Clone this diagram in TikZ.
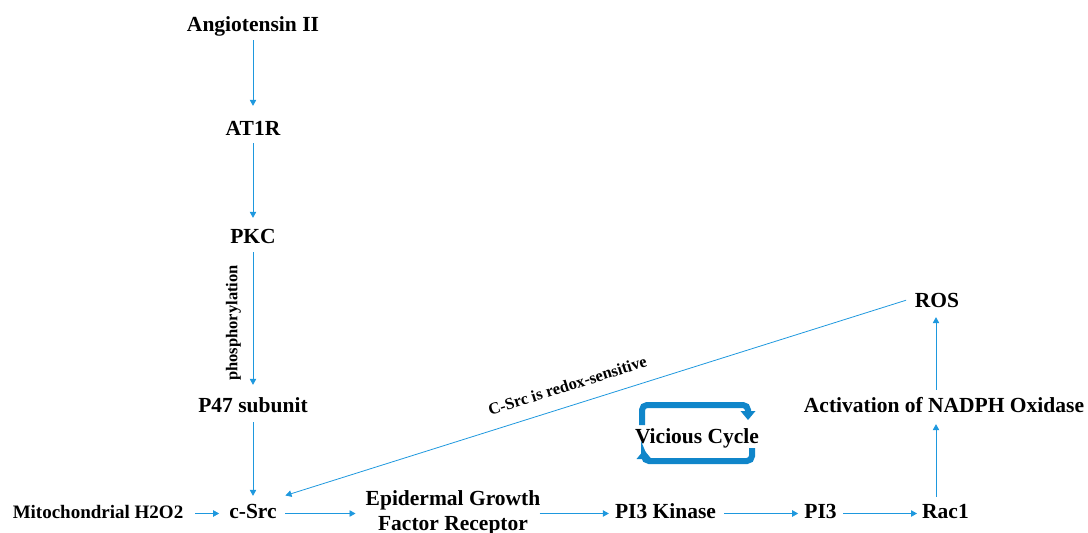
\documentclass[tikz,border=0pt]{standalone}
\usepackage{fontspec}
\setmainfont{Liberation Serif}
\usetikzlibrary{arrows.meta}
\definecolor{thinblue}{RGB}{30,152,222}
\definecolor{cycblue}{RGB}{16,134,202}
\begin{document}
\begin{tikzpicture}[x=1pt,y=-1pt,
  lbl/.style={font=\fontsize{21.5}{25}\selectfont\bfseries, inner sep=0pt, text height=14pt, text depth=5pt, anchor=base},
  arr/.style={draw=thinblue, line width=0.8pt, -{Triangle[length=6pt,width=6.5pt]}},
  rarr/.style={draw=thinblue, line width=0.8pt, {Triangle[length=6pt,width=6.5pt]}-},
  cycbody/.style={draw=cycblue, line width=6pt, rounded corners=5pt},
  cyctip/.style={fill=cycblue},
  smalllbl/.style={font=\fontsize{16.5}{19}\selectfont\bfseries, inner sep=0pt}]
\useasboundingbox (0,0) rectangle (1088,533);

% nodes
\node[lbl] (ang) at (253,31) {Angiotensin II};
\node[lbl] (at1r) at (253,135) {AT1R};
\node[lbl] (pkc) at (253,243) {PKC};
\node[lbl] (p47) at (253,412) {P47 subunit};
\node[lbl] (csrc) at (253,518) {c-Src};
\node[lbl, font=\fontsize{19}{23}\selectfont\bfseries] (mito) at (98,518) {Mitochondrial H2O2};
\node[font=\fontsize{21.5}{25}\selectfont\bfseries, align=center, inner sep=0pt] (egfr) at (453,512.5) {Epidermal Growth\\Factor Receptor};
\node[lbl] (pi3k) at (665.5,518) {PI3 Kinase};
\node[lbl] (pi3) at (820.5,518) {PI3};
\node[lbl] (rac1) at (945.5,518) {Rac1};
\node[lbl] (nadph) at (944,412) {Activation of NADPH Oxidase};
\node[lbl] (ros) at (937,307) {ROS};
\node[lbl] (vc) at (697,443) {Vicious Cycle};

% vertical chain
\draw[arr, shorten <=4pt, shorten >=15pt] (ang) -- (at1r);
\draw[arr, shorten <=3pt, shorten >=11pt] (at1r) -- (pkc);
\draw[arr, shorten <=4pt, shorten >=13pt] (pkc) -- node[smalllbl, rotate=90, yshift=19.5pt] (phos) {phosphorylation} (p47);
\draw[arr, shorten <=5pt, shorten >=8pt] (p47) -- (csrc);

% bottom row
\draw[arr, shorten <=12pt, shorten >=10pt] (mito) -- (csrc);
\draw[arr, shorten <=8.5pt, shorten >=10pt] (csrc.east) -- (csrc -| egfr.west);
\draw[arr, shorten <=-1pt, shorten >=6pt] (pi3k -| egfr.east) -- (pi3k.west);
\draw[arr, shorten <=8pt, shorten >=6pt] (pi3k) -- (pi3);
\draw[arr, shorten <=6.5pt, shorten >=5pt] (pi3) -- (rac1);

% right column
\draw[arr, shorten <=7pt, shorten >=7pt] ([xshift=-9.5pt]rac1.north) -- ([xshift=-8pt]nadph.south);
\draw[arr, shorten <=8pt, shorten >=5pt] ([xshift=-8pt]nadph.north) -- ([xshift=-1pt]ros.south);

% ROS -> c-Src
\draw[rarr, shorten <=9pt, shorten >=9pt] ([yshift=5.6pt]csrc.north east) -- node[smalllbl, sloped, pos=0.465, anchor=south, inner ysep=14pt] (redox) {C-Src is redox-sensitive} ([yshift=5pt]ros.west);

% vicious cycle arrows
\draw[cycbody] (642,425) -- (642,405) -- (748,405) -- (748,413);
\fill[cyctip] (740.5,411) -- (755.5,411) -- (748,420) -- cycle;
\draw[cycbody] (752,448) -- (752,461) -- (644,461) -- (644,457);
\fill[cyctip] (636.5,459) -- (651.5,459) -- (644,450) -- cycle;
\end{tikzpicture}
\end{document}
